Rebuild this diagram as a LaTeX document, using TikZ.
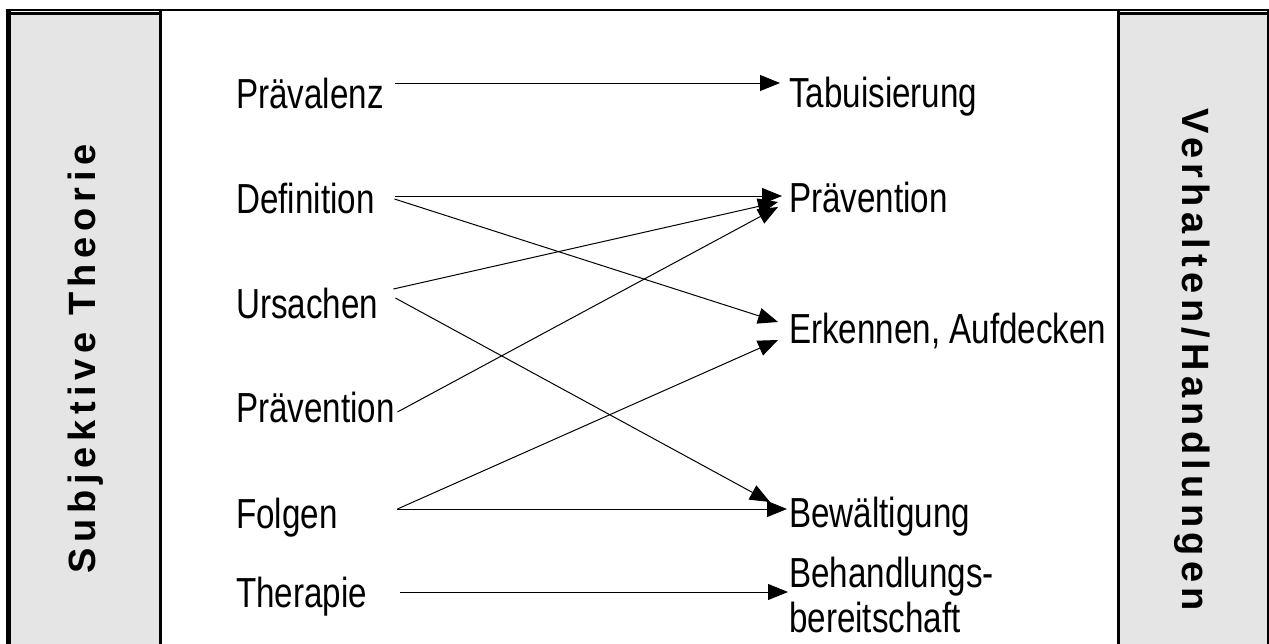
\documentclass[tikz,border=0pt]{standalone}
\usepackage{fontspec}
\setmainfont{Liberation Sans}
\newfontfamily\cond[FakeStretch=0.79]{Liberation Sans}
\newfontfamily\sidefontA[LetterSpace=15]{Liberation Sans}
\newfontfamily\sidefontB[LetterSpace=14]{Liberation Sans}
\usetikzlibrary{arrows.meta}
\definecolor{panel}{HTML}{E5E5E5}
\begin{document}
\begin{tikzpicture}[x=1pt,y=-1pt,
  lbl/.style={font=\cond\fontsize{42}{45}\selectfont, inner sep=0pt, anchor=base west},
  lft/.style={lbl, text width=159pt, align=left},
  arr/.style={-{Triangle[length=20pt,width=16pt]}, line width=1pt},
  sidelbl/.style={inner sep=0pt},
  frame/.style={line width=#1}]
\useasboundingbox (0,0) rectangle (1269,643);
% panels
\fill[panel] (6,12) rectangle (162,650);
\fill[panel] (1117,12) rectangle (1269,650);
% frame lines
\draw[frame=2.6pt] (6,10) -- (1269,10);
\draw[frame=2.4pt] (11,13.5) -- (160,13.5);
\draw[frame=2.4pt] (1118,13.5) -- (1269,13.5);
\draw[frame=5pt] (8.5,8.8) -- (8.5,650);
\draw[frame=3pt] (160.5,8.8) -- (160.5,650);
\draw[frame=3pt] (1118.5,8.8) -- (1118.5,650);
\draw[frame=2pt] (1268,8.8) -- (1268,650);
% side labels
\node[sidelbl, rotate=90, font=\sidefontA\bfseries\fontsize{38}{40}\selectfont] (st) at (86,359) {Subjektive Theorie};
\node[sidelbl, rotate=-90, font=\sidefontB\bfseries\fontsize{38}{40}\selectfont] (vh) at (1192,360) {Verhalten/Handlungen};
% left labels
\node[lft] (l1) at (236,108) {Prävalenz};
\node[lft] (l2) at (236,213) {Definition};
\node[lft] (l3) at (236,318) {Ursachen};
\node[lft] (l4) at (236,422) {Prävention};
\node[lft] (l5) at (236,528) {Folgen};
\node[lft] (l6) at (236,607) {Therapie};
% right labels
\node[lbl] (r1) at (789,107) {Tabuisierung};
\node[lbl] (r2) at (789,212) {Prävention};
\node[lbl] (r3) at (789,343) {Erkennen, Aufdecken};
\node[lbl] (r4) at (789,527) {Bewältigung};
\node[lbl, align=left] (r5) at (789,632) {Behandlungs-\\bereitschaft};
% arrows
\draw[arr] ([yshift=25pt]l1.base east) -- ([xshift=-9pt,yshift=24pt]r1.base west);
\draw[arr] ([yshift=17pt]l2.base east) -- ([xshift=-7pt,yshift=16pt]r2.base west);
\draw[arr] ([xshift=-1pt,yshift=14pt]l2.base east) -- ([xshift=-11pt,yshift=21pt]r3.base west);
\draw[arr] ([xshift=-2pt,yshift=29pt]l3.base east) -- ([xshift=-11pt,yshift=10pt]r2.base west);
\draw[arr] ([yshift=20pt]l3.base east) -- ([xshift=-19pt,yshift=25pt]r4.base west);
\draw[arr] ([xshift=2pt,yshift=10pt]l4.base east) -- ([xshift=-11pt,yshift=5pt]r2.base west);
\draw[arr] ([xshift=2pt,yshift=19pt]l5.base east) -- ([xshift=-11pt,yshift=3pt]r3.base west);
\draw[arr] ([xshift=2pt,yshift=19pt]l5.base east) -- ([xshift=-2pt,yshift=18pt]r4.base west);
\draw[arr] ([xshift=5pt,yshift=15pt]l6.base east) -- ([xshift=-1pt,yshift=40pt]r5.base west);
\end{tikzpicture}
\end{document}
